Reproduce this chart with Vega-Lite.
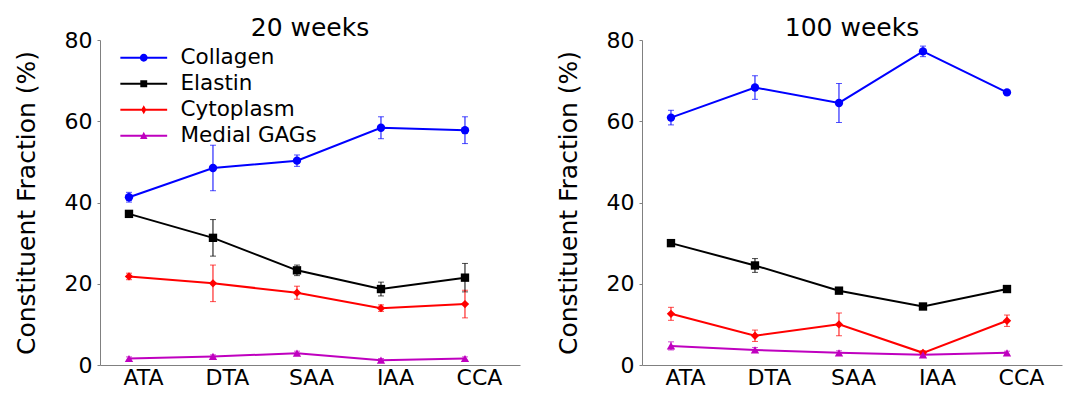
{
  "$schema": "https://vega.github.io/schema/vega-lite/v6.json",
  "background": "white",
  "padding": {"left": 14, "top": 16, "right": 5, "bottom": 5},
  "spacing": 36,
  "datasets": {
    "d20": [
      {"site": "ATA", "series": "Collagen", "value": 41.3, "err": 1.2},
      {"site": "DTA", "series": "Collagen", "value": 48.5, "err": 5.6},
      {"site": "SAA", "series": "Collagen", "value": 50.3, "err": 1.4},
      {"site": "IAA", "series": "Collagen", "value": 58.4, "err": 2.7},
      {"site": "CCA", "series": "Collagen", "value": 57.8, "err": 3.3},
      {"site": "ATA", "series": "Elastin", "value": 37.2, "err": 0.5},
      {"site": "DTA", "series": "Elastin", "value": 31.3, "err": 4.5},
      {"site": "SAA", "series": "Elastin", "value": 23.3, "err": 1.3},
      {"site": "IAA", "series": "Elastin", "value": 18.7, "err": 1.7},
      {"site": "CCA", "series": "Elastin", "value": 21.5, "err": 3.5},
      {"site": "ATA", "series": "Cytoplasm", "value": 21.8, "err": 0.8},
      {"site": "DTA", "series": "Cytoplasm", "value": 20.1, "err": 4.5},
      {"site": "SAA", "series": "Cytoplasm", "value": 17.8, "err": 1.6},
      {"site": "IAA", "series": "Cytoplasm", "value": 14.0, "err": 0.8},
      {"site": "CCA", "series": "Cytoplasm", "value": 15.0, "err": 3.4},
      {"site": "ATA", "series": "Medial GAGs", "value": 1.6, "err": 0.4},
      {"site": "DTA", "series": "Medial GAGs", "value": 2.1, "err": 0.4},
      {"site": "SAA", "series": "Medial GAGs", "value": 2.9, "err": 0.5},
      {"site": "IAA", "series": "Medial GAGs", "value": 1.2, "err": 0.4},
      {"site": "CCA", "series": "Medial GAGs", "value": 1.6, "err": 0.4}
    ],
    "d100": [
      {"site": "ATA", "series": "Collagen", "value": 60.9, "err": 1.8},
      {"site": "DTA", "series": "Collagen", "value": 68.3, "err": 2.9},
      {"site": "SAA", "series": "Collagen", "value": 64.5, "err": 4.8},
      {"site": "IAA", "series": "Collagen", "value": 77.2, "err": 1.3},
      {"site": "CCA", "series": "Collagen", "value": 67.1, "err": 0.5},
      {"site": "ATA", "series": "Elastin", "value": 30.0, "err": 0.7},
      {"site": "DTA", "series": "Elastin", "value": 24.5, "err": 1.7},
      {"site": "SAA", "series": "Elastin", "value": 18.3, "err": 0.5},
      {"site": "IAA", "series": "Elastin", "value": 14.4, "err": 0.4},
      {"site": "CCA", "series": "Elastin", "value": 18.7, "err": 0.4},
      {"site": "ATA", "series": "Cytoplasm", "value": 12.6, "err": 1.6},
      {"site": "DTA", "series": "Cytoplasm", "value": 7.2, "err": 1.4},
      {"site": "SAA", "series": "Cytoplasm", "value": 10.0, "err": 2.8},
      {"site": "IAA", "series": "Cytoplasm", "value": 3.0, "err": 0.5},
      {"site": "CCA", "series": "Cytoplasm", "value": 10.9, "err": 1.4},
      {"site": "ATA", "series": "Medial GAGs", "value": 4.7, "err": 1.0},
      {"site": "DTA", "series": "Medial GAGs", "value": 3.7, "err": 0.6},
      {"site": "SAA", "series": "Medial GAGs", "value": 3.0, "err": 0.5},
      {"site": "IAA", "series": "Medial GAGs", "value": 2.5, "err": 0.4},
      {"site": "CCA", "series": "Medial GAGs", "value": 3.0, "err": 0.4}
    ]
  },
  "hconcat": [
    {
      "width": 420,
      "height": 325,
      "title": {"text": "20 weeks"},
      "data": {"name": "d20"},
      "resolve": {"scale": {"shape": "independent", "fill": "independent"}, "legend": {"shape": "independent", "fill": "independent"}},
      "encoding": {
        "x": {"field": "site", "type": "nominal", "sort": ["ATA", "DTA", "SAA", "IAA", "CCA"],
              "scale": {"type": "point", "padding": 0.5, "align": 0.345}, "axis": {"title": null}},
        "y": {"field": "value", "type": "quantitative", "title": "Constituent Fraction (%)", "scale": {"domain": [0, 80]}, "axis": {"values": [0, 20, 40, 60, 80]}},
        "color": {"field": "series", "type": "nominal",
                  "scale": {"domain": ["Collagen", "Elastin", "Cytoplasm", "Medial GAGs"], "range": ["#0000ff", "#000000", "#ff0000", "#bf00bf"]},
                  "legend": null}
      },
      "layer": [
        {"mark": {"type": "line", "strokeWidth": 2}, "encoding": {}},
        {"mark": {"type": "errorbar", "ticks": {"size": 6, "thickness": 1}, "rule": {"strokeWidth": 1}},
         "encoding": {"y": {"field": "value", "type": "quantitative", "title": "Constituent Fraction (%)"}, "yError": {"field": "err"}}},
        {"mark": {"type": "point", "filled": true, "opacity": 1, "size": 70},
         "encoding": {"shape": {"field": "series", "type": "nominal", "scale": {"domain": ["Collagen", "Elastin", "Cytoplasm", "Medial GAGs"], "range": ["circle", "square", "diamond", "triangle-up"]}, "legend": null}}},
        {"transform": [{"filter": "datum.value < -1"}],
         "mark": {"type": "point", "filled": true, "opacity": 1, "size": 36, "strokeWidth": 0},
         "encoding": {
           "fill": {"field": "series", "type": "nominal",
                    "scale": {"domain": ["Collagen", "Elastin", "Cytoplasm", "Medial GAGs"], "range": ["#0000ff", "#000000", "#ff0000", "#bf00bf"]},
                    "legend": {"title": null, "orient": "top-left", "offset": 7, "padding": 0,
                               "labelFontSize": 21.5, "labelColor": "#000000", "rowPadding": 3,
                               "symbolSize": 36, "symbolOffset": 26, "labelOffset": 26, "symbolStrokeWidth": 0}},
           "shape": {"field": "series", "type": "nominal",
                     "scale": {"domain": ["Collagen", "Elastin", "Cytoplasm", "Medial GAGs"],
                               "range": [
                                 "M-7.8,-0.33H7.8V0.33H-7.8Z M-1.3,0A1.3,1.3 0 1,1 1.3,0A1.3,1.3 0 1,1 -1.3,0Z",
                                 "M-7.8,-0.33H7.8V0.33H-7.8Z M-1.15,-1.15H1.15V1.15H-1.15Z",
                                 "M-7.8,-0.33H7.8V0.33H-7.8Z M0,-1.5L0.85,0L0,1.5L-0.85,0Z",
                                 "M-7.8,-0.33H7.8V0.33H-7.8Z M0,-1.35L1.25,1.05H-1.25Z"
                               ]},
                     "legend": {"title": null, "orient": "top-left", "offset": 7, "padding": 0,
                                "labelFontSize": 21.5, "labelColor": "#000000", "rowPadding": 3,
                                "symbolSize": 36, "symbolOffset": 26, "labelOffset": 26, "symbolStrokeWidth": 0}}}}
      ]
    },
    {
      "width": 420,
      "height": 325,
      "title": {"text": "100 weeks"},
      "data": {"name": "d100"},
      "encoding": {
        "x": {"field": "site", "type": "nominal", "sort": ["ATA", "DTA", "SAA", "IAA", "CCA"],
              "scale": {"type": "point", "padding": 0.5, "align": 0.345}, "axis": {"title": null}},
        "y": {"field": "value", "type": "quantitative", "title": "Constituent Fraction (%)", "scale": {"domain": [0, 80]}, "axis": {"values": [0, 20, 40, 60, 80]}},
        "color": {"field": "series", "type": "nominal",
                  "scale": {"domain": ["Collagen", "Elastin", "Cytoplasm", "Medial GAGs"], "range": ["#0000ff", "#000000", "#ff0000", "#bf00bf"]},
                  "legend": null}
      },
      "layer": [
        {"mark": {"type": "line", "strokeWidth": 2}, "encoding": {}},
        {"mark": {"type": "errorbar", "ticks": {"size": 6, "thickness": 1}, "rule": {"strokeWidth": 1}},
         "encoding": {"y": {"field": "value", "type": "quantitative", "title": "Constituent Fraction (%)"}, "yError": {"field": "err"}}},
        {"mark": {"type": "point", "filled": true, "opacity": 1, "size": 70},
         "encoding": {"shape": {"field": "series", "type": "nominal", "scale": {"domain": ["Collagen", "Elastin", "Cytoplasm", "Medial GAGs"], "range": ["circle", "square", "diamond", "triangle-up"]}, "legend": null}}}
      ]
    }
  ],
  "config": {
    "font": "DejaVu Sans",
    "view": {"stroke": null},
    "title": {"fontSize": 25, "fontWeight": "normal", "color": "#000000", "anchor": "middle", "offset": -12},
    "axis": {"grid": false, "domainColor": "#808080", "domainWidth": 1, "tickColor": "#808080",
             "labelFontSize": 22, "labelColor": "#000000", "titleFontSize": 25, "titleFontWeight": "normal", "titleColor": "#000000"},
    "axisX": {"ticks": false, "labelAngle": 0, "labelOffset": 14, "labelPadding": 2},
    "axisY": {"tickSize": 3, "labelPadding": 5, "titlePadding": 25}
  }
}
